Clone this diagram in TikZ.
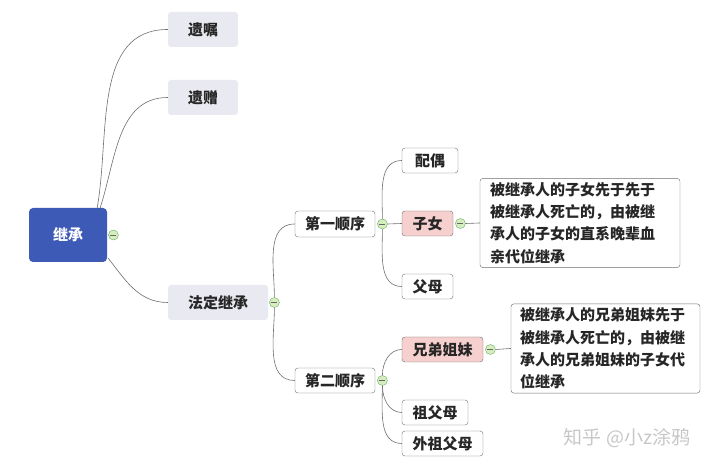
\documentclass[tikz,border=0pt]{standalone}
\usepackage{fontspec}
\setmainfont{Noto Sans CJK SC}
\usetikzlibrary{positioning}
\definecolor{rootblue}{RGB}{62,90,183}
\definecolor{topicgray}{RGB}{233,233,241}
\definecolor{hotpink}{RGB}{246,208,206}
\definecolor{foldgreen}{RGB}{214,238,190}
\definecolor{linegray}{RGB}{110,110,110}
\begin{document}
\begin{tikzpicture}[x=1pt, y=1pt,
    every node/.style={font=\fontsize{15}{22.3}\selectfont\bfseries, text=black!85, inner sep=0pt},
    root/.style={fill=rootblue, rounded corners=4pt, text=white, minimum width=78pt, minimum height=54pt},
    topic/.style={fill=topicgray, rounded corners=3pt, minimum height=35pt},
    sub/.style={draw=linegray, fill=white, rounded corners=3pt, minimum height=25pt},
    hot/.style={sub, fill=hotpink},
    note/.style={draw=linegray, fill=white, rounded corners=3pt, align=left, inner ysep=4pt},
    fold/.style={circle, draw=black!55!green!60, fill=foldgreen, minimum size=10pt,
      path picture={\draw[black!60] ([xshift=-3pt]path picture bounding box.center) -- ([xshift=3pt]path picture bounding box.center);}},
    link/.style={draw=linegray, line width=0.6pt}]
                \useasboundingbox (0,0) rectangle (718,468);

                % Root
                \node[root] (jicheng) at (68,233) {继承};
                \node[fold, right=1pt of jicheng] (fjicheng) {};

                % First level
                \node[topic, minimum width=70pt] (yizhu) at (203,438.5) {遗嘱};
                \node[topic, minimum width=70pt] (yizeng) at (203,370.5) {遗赠};
                \node[topic, minimum width=100pt] (fading) at (218,165.5) {法定继承};
                \node[fold, right=1pt of fading] (ffading) {};

                % Orders
                \node[sub, minimum width=80pt, minimum height=26pt] (diyi) at (335,244) {第一顺序};
                \node[fold, right=2pt of diyi] (fdiyi) {};
                \node[sub, minimum width=80pt] (dier) at (335,87.5) {第二顺序};
                \node[fold, right=2pt of dier] (fdier) {};

                % First order heirs
                \node[sub, minimum width=56pt] (peiou) at (430,307.5) {配偶};
                \node[hot, minimum width=51pt] (zinv) at (427.5,244.5) {子女};
                \node[fold, right=2pt of zinv] (fzinv) {};
                \node[sub, minimum width=51pt] (fumu) at (427.5,181.5) {父母};

                % Second order heirs
                \node[hot, minimum width=81pt] (xiongdi) at (442.5,118.5) {兄弟姐妹};
                \node[fold, right=2pt of xiongdi] (fxiongdi) {};
                \node[sub, minimum width=66pt] (zufumu) at (435,55.5) {祖父母};
                \node[sub, minimum width=81pt] (waizu) at (442.5,24.5) {外祖父母};

                % Notes
                \node[note, inner xsep=10pt, text width=180pt, minimum height=88pt] (note1) at (580,245)
                    {被继承人的子女先于先于\\被继承人死亡的，由被继\\承人的子女的直系晚辈血\\亲代位继承};
                \node[note, inner xsep=9pt, text width=171pt, minimum height=87pt] (note2) at (605.5,119.5)
                    {被继承人的兄弟姐妹先于\\被继承人死亡的，由被继\\承人的兄弟姐妹的子女代\\位继承};

                % Watermark
                \node[font=\fontsize{19}{19}\selectfont, text=black!22] (mark) at (627,30) {知乎 @小z涂鸦};

                % Connectors
                \draw[link] ([xshift=-10pt]jicheng.north east) to[out=80, in=180] (yizhu.west);
                \draw[link] ([xshift=-7pt]jicheng.north east) to[out=72, in=180] (yizeng.west);
                \draw[link] ([xshift=1pt, yshift=4pt]jicheng.south east) to[out=-52, in=180] (fading.west);
                \draw[link] (ffading.north) to[out=90, in=180] (diyi.west);
                \draw[link] (ffading.south) to[out=-90, in=180] (dier.west);
                \draw[link] (fdiyi.north) to[out=90, in=180] (peiou.west);
                \draw[link] (fdiyi.east) -- (zinv.west);
                \draw[link] (fdiyi.south) to[out=-90, in=180] (fumu.west);
                \draw[link] (fzinv.east) -- (note1.west);
                \draw[link] (fdier.north) to[out=90, in=180] (xiongdi.west);
                \draw[link] (fdier.south) to[out=-90, in=180] (zufumu.west);
                \draw[link] (fdier.south) to[out=-90, in=180] (waizu.west);
                \draw[link] (fxiongdi.east) -- (note2.west);
            \end{tikzpicture}
\end{document}
